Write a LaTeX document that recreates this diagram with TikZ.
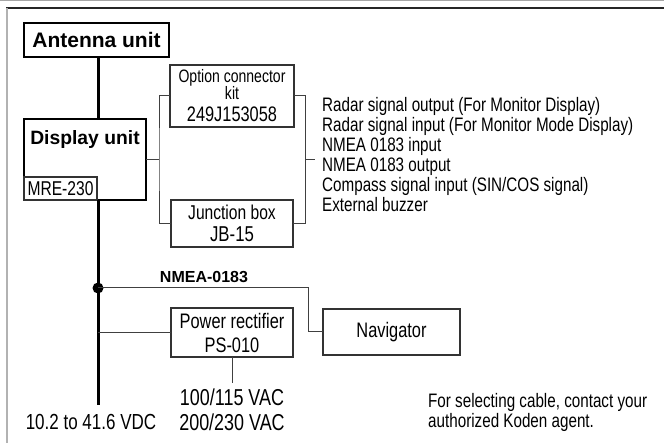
\documentclass[tikz,border=0pt]{standalone}
\usepackage{fontspec}
\setmainfont{Liberation Sans}[FakeStretch=0.78]
\newfontfamily\boldsans{Liberation Sans}
\usetikzlibrary{positioning}

\tikzset{
  unitbox/.style={draw=black, line width=2.6pt, inner sep=0pt, outer sep=0pt},
  partbox/.style={draw=black!80, line width=1.1pt, inner sep=0pt, outer sep=0pt, align=center},
  wire/.style={draw=black!75, line width=1pt},
  trunk/.style={draw=black, line width=3pt},
  tapdot/.style={circle, fill=black, inner sep=0pt, minimum size=11pt},
  sigtext/.style={font=\fontsize{19.5}{20}\selectfont, inner sep=0pt, anchor=base west}
}

\begin{document}
\begin{tikzpicture}[x=1pt,y=-1pt]
\useasboundingbox (0,0) rectangle (664,443);
% Drawing frame
\draw[gray!70, line width=1pt] (0,0.5) -- (664,0.5);
\draw[black!85, line width=1.6pt] (6,8) -- (664,8);
\draw[gray!60, line width=1.4pt] (7,8) -- (7,443);
% Drawing units
\node[unitbox, minimum width=145pt, minimum height=34pt, font=\boldsans\bfseries\fontsize{21}{24}\selectfont] (antenna) at (96.5,40) {Antenna unit};
\node[unitbox, minimum width=122pt, minimum height=81pt] (display) at (85,159.5) {};
\node[anchor=base, inner sep=0pt, font=\boldsans\bfseries\fontsize{19.3}{20}\selectfont] (displaytitle) at (85,145) {Display unit};
\node[partbox, anchor=south west, minimum width=73pt, minimum height=23pt, font=\fontsize{20}{20}\selectfont] (mre) at (display.south west) {MRE-230};
% Drawing parts
\node[partbox, minimum width=124pt, minimum height=62pt, font=\fontsize{18}{17}\selectfont] (option) at (232,96) {Option connector\\kit\\[5pt]{\fontsize{21}{21}\selectfont 249J153058}};
\node[partbox, minimum width=122pt, minimum height=47pt, font=\fontsize{20}{21.7}\selectfont] (junction) at (232,223.5) {Junction box\\{\fontsize{21.5}{21.7}\selectfont JB-15}};
\node[partbox, minimum width=122pt, minimum height=49pt, font=\fontsize{21}{24}\selectfont] (power) at (232,332.5) {Power rectifier\\PS-010};
\node[partbox, minimum width=137pt, minimum height=46pt, font=\fontsize{21}{21}\selectfont] (nav) at (391.5,332) {Navigator};
% Drawing trunk
\coordinate (dc) at (98,405);
\draw[trunk] (antenna.south -| dc) -- (display.north -| dc);
\draw[trunk] (display.south -| dc) -- (dc);
\node[tapdot] (tap) at (98,288) {};
% Drawing wires
\draw[wire] (display.east) -- ++(13,0) coordinate (lb);
\draw[wire] (option.west) -| (lb) |- (junction.west);
\draw[wire] (option.east) -- ++(11,0) coordinate (rb) |- (junction.east);
\draw[wire] (rb |- display.east) -- ++(10,0);
\draw[wire] (tap.center) -- ++(210,0) |- (nav.west);
\draw[wire] (power.west -| dc) -- (power.west);
\draw[wire] (power.south) -- ++(0,26) coordinate (ac);
% Done with wires; drawing labels
\foreach \sig [count=\i] in {{Radar signal output (For Monitor Display)},{Radar signal input (For Monitor Mode Display)},{NMEA 0183 input},{NMEA 0183 output},{Compass signal input (SIN/COS signal)},{External buzzer}}
  \node[sigtext] (sig\i) at (322,92+20*\i) {\sig};
\node[anchor=base, inner sep=0pt, font=\boldsans\bfseries\fontsize{16}{16}\selectfont] (nmea) at (204,283) {NMEA-0183};
\node[below=5.5pt of ac, inner sep=0pt, align=center, font=\fontsize{23}{25}\selectfont] (acin) {100/115 VAC\\200/230 VAC};
\node[anchor=base, inner sep=0pt, font=\fontsize{21.8}{20}\selectfont] (dcin) at (91,429) {10.2 to 41.6 VDC};
\node[anchor=north west, inner sep=0pt, align=left, font=\fontsize{19.5}{20}\selectfont] (note) at (428,392.8) {For selecting cable, contact your\\authorized Koden agent.};
% Done with labels
\end{tikzpicture}
\end{document}
